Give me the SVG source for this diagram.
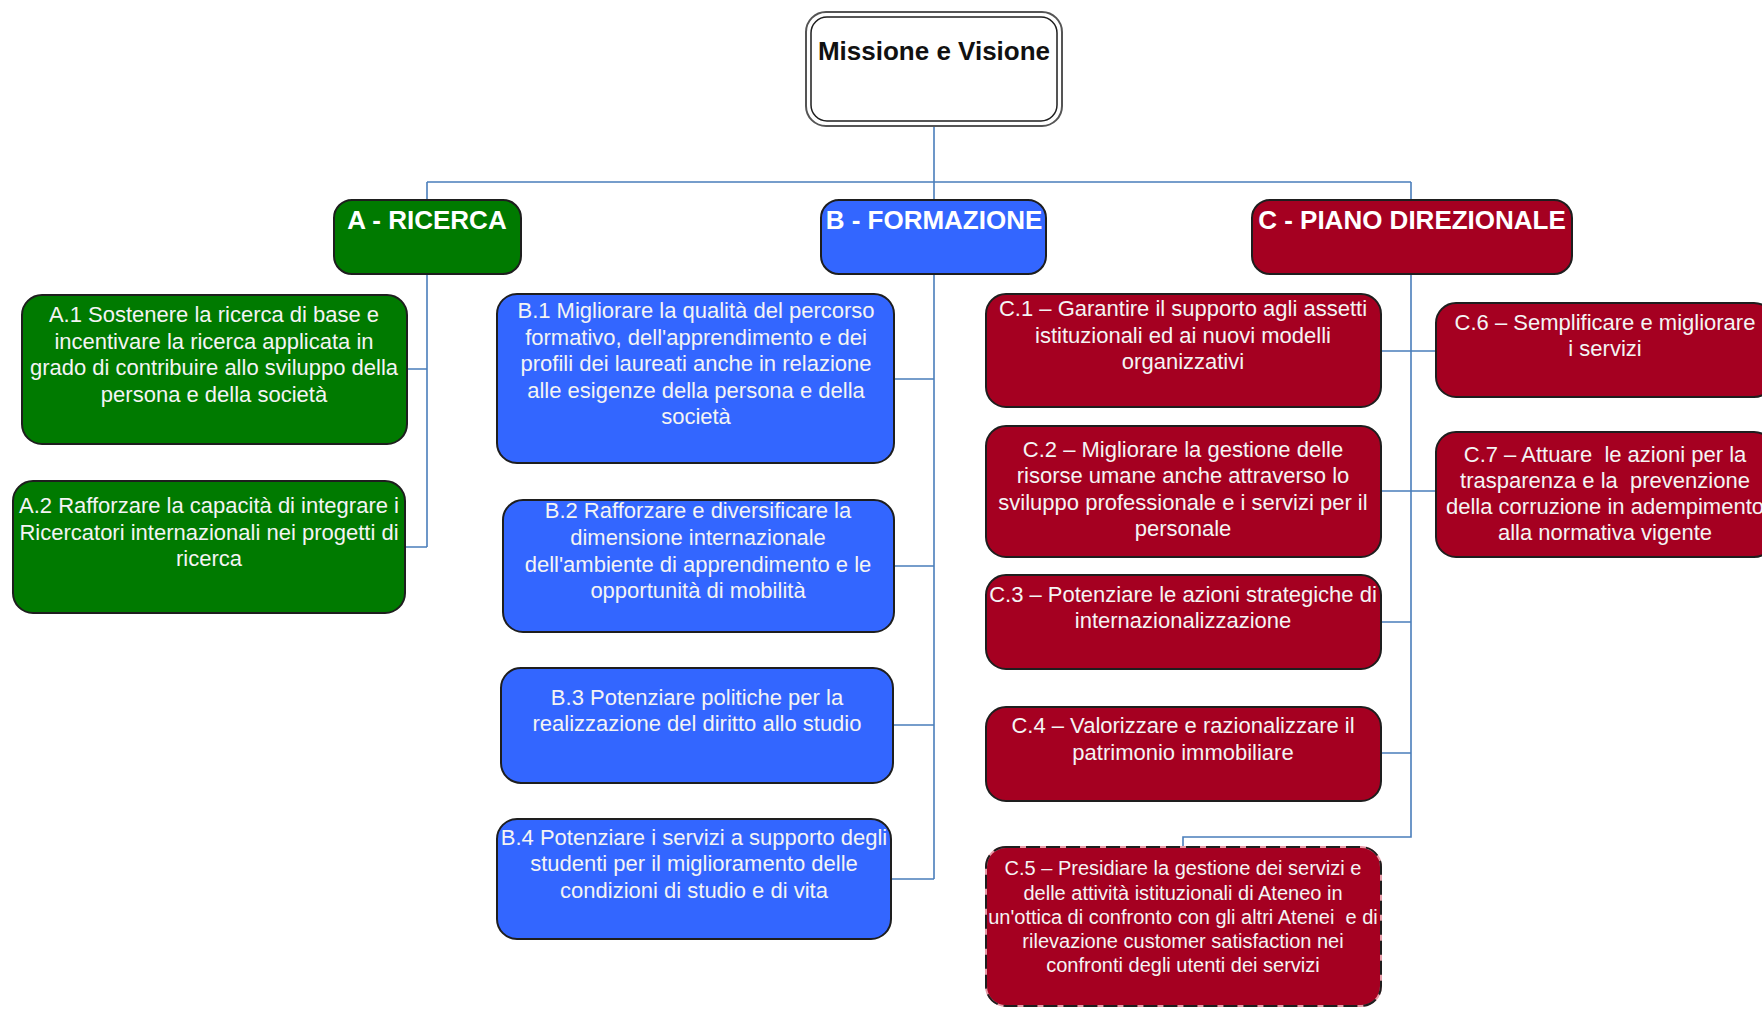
<svg xmlns="http://www.w3.org/2000/svg" width="1762" height="1009" viewBox="0 0 1762 1009">
<style>
.t{font-family:"Liberation Sans",Arial,sans-serif;font-size:22px;fill:#F4F4F4;text-anchor:middle}
.s{font-size:20px}
.h{font-family:"Liberation Sans",Arial,sans-serif;font-size:26px;font-weight:bold;fill:#FFFFFF;text-anchor:middle}
.g{fill:#007A00;stroke:#1E1E1E;stroke-width:2}
.b{fill:#3366FF;stroke:#1E1E1E;stroke-width:2}
.r{fill:#A50021;stroke:#1E1E1E;stroke-width:2}
.c{fill:none;stroke:#4A7EBB;stroke-width:1.6}
</style>
<rect width="1762" height="1009" fill="#FFFFFF"/>
<g id="connectors">
<path class="c" d="M934 126V200M427 182H1411M427 182V200M1411 182V200"/>
<path class="c" d="M427 274V547M406 369H427M404 547H427"/>
<path class="c" d="M934 274V879M894 379H934M894 566H934M893 725H934M891 879H934"/>
<path class="c" d="M1411 274V837H1183V847M1381 351H1436M1381 491H1436M1381 622H1411M1381 753H1411"/>
</g>
<g id="root">
<rect x="806" y="12" width="256" height="114" rx="20" fill="#FFFFFF" stroke="#555555" stroke-width="2"/>
<rect x="811" y="17" width="246" height="104" rx="16" fill="none" stroke="#1E1E1E" stroke-width="1.5"/>
<text x="934" y="60" class="h" style="fill:#111111">Missione e Visione</text>
</g>
<g id="headerA">
<rect class="g" x="334" y="200" width="187" height="74" rx="18"/>
<text class="h" x="427" y="229">A - RICERCA</text>
</g>
<g id="headerB">
<rect class="b" x="821" y="200" width="225" height="74" rx="18"/>
<text class="h" x="934" y="229">B - FORMAZIONE</text>
</g>
<g id="headerC">
<rect class="r" x="1252" y="200" width="320" height="74" rx="18"/>
<text class="h" x="1412" y="229">C - PIANO DIREZIONALE</text>
</g>
<g id="A1">
<rect class="g" x="22" y="295" width="385" height="149" rx="20"/>
<text class="t" x="214" y="322">A.1 Sostenere la ricerca di base e</text>
<text class="t" x="214" y="348.7">incentivare la ricerca applicata in</text>
<text class="t" x="214" y="375.3">grado di contribuire allo sviluppo della</text>
<text class="t" x="214" y="402">persona e della società</text>
</g>
<g id="A2">
<rect class="g" x="13" y="481" width="392" height="132" rx="20"/>
<text class="t" x="209" y="513">A.2 Rafforzare la capacità di integrare i</text>
<text class="t" x="209" y="539.5">Ricercatori internazionali nei progetti di</text>
<text class="t" x="209" y="566">ricerca</text>
</g>
<g id="B1">
<rect class="b" x="497" y="294" width="397" height="169" rx="20"/>
<text class="t" x="696" y="318">B.1 Migliorare la qualità del percorso</text>
<text class="t" x="696" y="344.5">formativo, dell'apprendimento e dei</text>
<text class="t" x="696" y="371">profili dei laureati anche in relazione</text>
<text class="t" x="696" y="397.5">alle esigenze della persona e della</text>
<text class="t" x="696" y="424">società</text>
</g>
<g id="B2">
<rect class="b" x="503" y="500" width="391" height="132" rx="20"/>
<text class="t" x="698" y="518">B.2 Rafforzare e diversificare la</text>
<text class="t" x="698" y="545">dimensione internazionale</text>
<text class="t" x="698" y="572">dell'ambiente di apprendimento e le</text>
<text class="t" x="698" y="598">opportunità di mobilità</text>
</g>
<g id="B3">
<rect class="b" x="501" y="668" width="392" height="115" rx="20"/>
<text class="t" x="697" y="705">B.3 Potenziare politiche per la</text>
<text class="t" x="697" y="731">realizzazione del diritto allo studio</text>
</g>
<g id="B4">
<rect class="b" x="497" y="819" width="394" height="120" rx="20"/>
<text class="t" x="694" y="845">B.4 Potenziare i servizi a supporto degli</text>
<text class="t" x="694" y="871">studenti per il miglioramento delle</text>
<text class="t" x="694" y="897.5">condizioni di studio e di vita</text>
</g>
<g id="C1">
<rect class="r" x="986" y="294" width="395" height="113" rx="20"/>
<text class="t" x="1183" y="316">C.1 – Garantire il supporto agli assetti</text>
<text class="t" x="1183" y="342.5">istituzionali ed ai nuovi modelli</text>
<text class="t" x="1183" y="369">organizzativi</text>
</g>
<g id="C2">
<rect class="r" x="986" y="426" width="395" height="131" rx="20"/>
<text class="t" x="1183" y="456.5">C.2 – Migliorare la gestione delle</text>
<text class="t" x="1183" y="483">risorse umane anche attraverso lo</text>
<text class="t" x="1183" y="509.5">sviluppo professionale e i servizi per il</text>
<text class="t" x="1183" y="536">personale</text>
</g>
<g id="C3">
<rect class="r" x="986" y="575" width="395" height="94" rx="20"/>
<text class="t" x="1183" y="601.5">C.3 – Potenziare le azioni strategiche di</text>
<text class="t" x="1183" y="628">internazionalizzazione</text>
</g>
<g id="C4">
<rect class="r" x="986" y="707" width="395" height="94" rx="20"/>
<text class="t" x="1183" y="733">C.4 – Valorizzare e razionalizzare il</text>
<text class="t" x="1183" y="760">patrimonio immobiliare</text>
</g>
<g id="C5">
<rect x="986" y="847" width="395" height="159" rx="20" fill="#A50021" stroke="#E59AA6" stroke-width="2"/>
<rect x="986" y="847" width="395" height="159" rx="20" fill="none" stroke="#1E1E1E" stroke-width="2" stroke-dasharray="14 6"/>
<text class="t s" x="1183" y="875">C.5 – Presidiare la gestione dei servizi e</text>
<text class="t s" x="1183" y="899.5">delle attività istituzionali di Ateneo in</text>
<text class="t s" x="1183" y="923.5">un'ottica di confronto con gli altri Atenei &#160;e di</text>
<text class="t s" x="1183" y="948">rilevazione customer satisfaction nei</text>
<text class="t s" x="1183" y="972">confronti degli utenti dei servizi</text>
</g>
<g id="C6">
<rect class="r" x="1436" y="303" width="338" height="94" rx="20"/>
<text class="t" x="1605" y="329.5">C.6 – Semplificare e migliorare</text>
<text class="t" x="1605" y="356">i servizi</text>
</g>
<g id="C7">
<rect class="r" x="1436" y="432" width="338" height="125" rx="20"/>
<text class="t" x="1605" y="461.5">C.7 – Attuare &#160;le azioni per la</text>
<text class="t" x="1605" y="487.5">trasparenza e la &#160;prevenzione</text>
<text class="t" x="1605" y="513.5">della corruzione in adempimento</text>
<text class="t" x="1605" y="539.5">alla normativa vigente</text>
</g>
</svg>
